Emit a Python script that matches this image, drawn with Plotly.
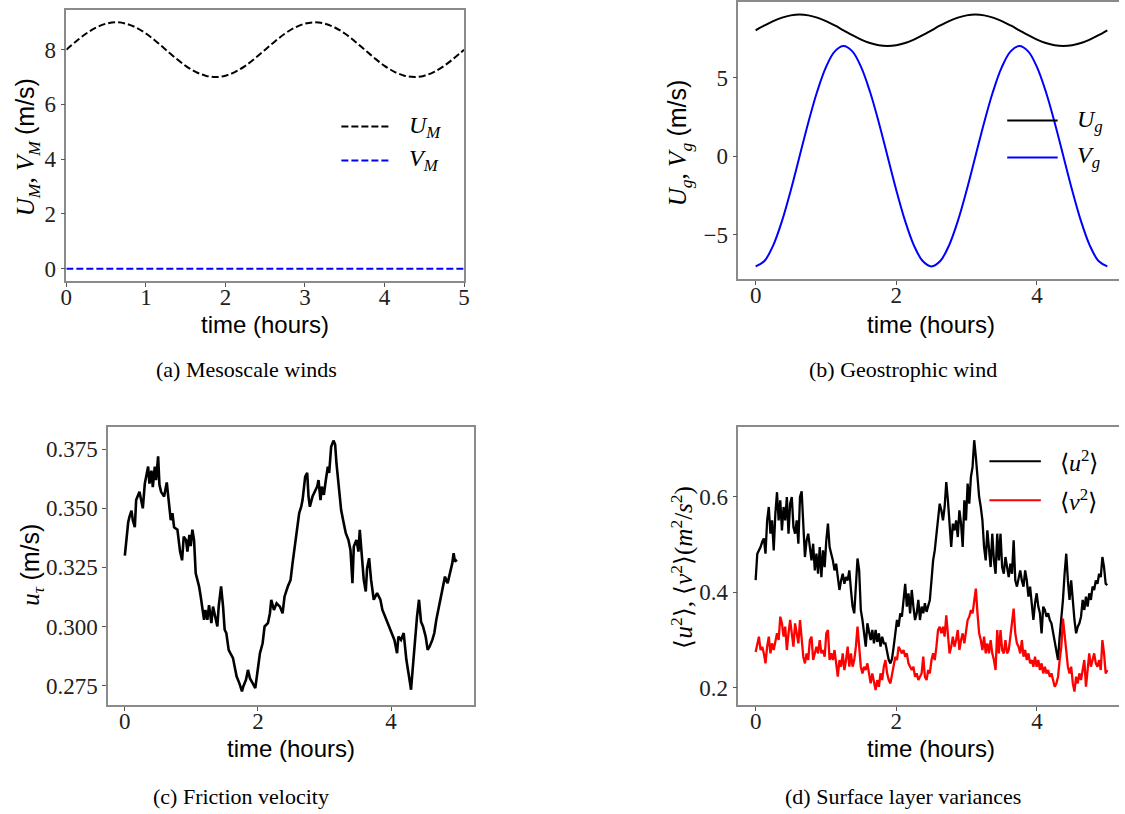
import numpy as np
import plotly.graph_objects as go

# ---------------- data ----------------
# (a)/(b) sample times (hours), step 0.125 h
t_ab = np.linspace(0, 5, 41)
u_meso = [8.00, 8.31, 8.59, 8.81, 8.95, 9.00, 8.95, 8.81, 8.59, 8.31, 8.00, 7.69, 7.41, 7.19,
          7.05, 7.00, 7.05, 7.19, 7.41, 7.69, 8.00, 8.31, 8.59, 8.81, 8.95, 9.00, 8.95, 8.81,
          8.59, 8.31, 8.00, 7.69, 7.41, 7.19, 7.05, 7.00, 7.05, 7.19, 7.41, 7.69, 8.00]
v_meso = [0.0, 0.0, 0.0, 0.0, 0.0, 0.0, 0.0, 0.0, 0.0, 0.0, 0.0, 0.0, 0.0, 0.0, 0.0, 0.0, 0.0,
          0.0, 0.0, 0.0, 0.0, 0.0, 0.0, 0.0, 0.0, 0.0, 0.0, 0.0, 0.0, 0.0, 0.0, 0.0, 0.0, 0.0,
          0.0, 0.0, 0.0, 0.0, 0.0, 0.0, 0.0]
u_geo = [8.00, 8.31, 8.59, 8.81, 8.95, 9.00, 8.95, 8.81, 8.59, 8.31, 8.00, 7.69, 7.41, 7.19,
         7.05, 7.00, 7.05, 7.19, 7.41, 7.69, 8.00, 8.31, 8.59, 8.81, 8.95, 9.00, 8.95, 8.81,
         8.59, 8.31, 8.00, 7.69, 7.41, 7.19, 7.05, 7.00, 7.05, 7.19, 7.41, 7.69, 8.00]
v_geo = [-7.00, -6.66, -5.66, -4.11, -2.16, 0.00, 2.16, 4.11, 5.66, 6.66, 7.00, 6.66, 5.66, 4.11,
         2.16, 0.00, -2.16, -4.11, -5.66, -6.66, -7.00, -6.66, -5.66, -4.11, -2.16, 0.00, 2.16,
         4.11, 5.66, 6.66, 7.00, 6.66, 5.66, 4.11, 2.16, 0.00, -2.16, -4.11, -5.66, -6.66, -7.00]

# (c) friction velocity
t_c = [0.00, 0.025, 0.05, 0.07, 0.10, 0.12, 0.15, 0.17, 0.22, 0.27,
       0.30, 0.35, 0.37, 0.40, 0.42, 0.45, 0.47, 0.50, 0.52, 0.545,
       0.59, 0.63, 0.655, 0.69, 0.715, 0.74, 0.79, 0.83, 0.86, 0.885,
       0.92, 0.94, 0.97, 0.99, 1.015, 1.04, 1.065, 1.09, 1.115, 1.14,
       1.16, 1.19, 1.21, 1.24, 1.265, 1.30, 1.325, 1.36, 1.39, 1.41,
       1.446, 1.476, 1.50, 1.525, 1.56, 1.585, 1.625, 1.66, 1.68, 1.72,
       1.76, 1.78, 1.82, 1.85, 1.88, 1.92, 1.96, 1.99, 2.03, 2.07,
       2.10, 2.15, 2.18, 2.20, 2.24, 2.28, 2.33, 2.37, 2.40, 2.45,
       2.49, 2.52, 2.55, 2.58, 2.62, 2.65, 2.67, 2.71, 2.74, 2.76,
       2.78, 2.82, 2.86, 2.89, 2.91, 2.94, 2.96, 2.99, 3.02, 3.05,
       3.07, 3.10, 3.135, 3.16, 3.18, 3.22, 3.25, 3.28, 3.32, 3.36,
       3.39, 3.42, 3.44, 3.48, 3.51, 3.53, 3.56, 3.59, 3.62, 3.64,
       3.67, 3.70, 3.74, 3.79, 3.84, 3.87, 3.91, 3.95, 3.99, 4.02,
       4.05, 4.09, 4.11, 4.15, 4.19, 4.21, 4.23, 4.27, 4.30, 4.32,
       4.36, 4.39, 4.42, 4.45, 4.48, 4.52, 4.55, 4.58, 4.62, 4.65,
       4.68, 4.72, 4.75, 4.78, 4.81, 4.85, 4.89, 4.92, 4.94, 4.96,
       4.99]
u_tau = [0.330, 0.338, 0.344, 0.3465, 0.349, 0.345, 0.342, 0.3535, 0.357, 0.350,
         0.3605, 0.3677, 0.3605, 0.366, 0.359, 0.3677, 0.362, 0.372, 0.360, 0.357,
         0.355, 0.361, 0.3535, 0.345, 0.348, 0.342, 0.341, 0.3317, 0.328, 0.338,
         0.3366, 0.3317, 0.3388, 0.334, 0.341, 0.3366, 0.3225, 0.3197, 0.317, 0.3127,
         0.309, 0.3028, 0.307, 0.3028, 0.309, 0.3014, 0.3084, 0.3042, 0.300, 0.3084,
         0.317, 0.3084, 0.2986, 0.2972, 0.2901, 0.2887, 0.2866, 0.2816, 0.2788, 0.276,
         0.2725, 0.2746, 0.2774, 0.2816, 0.278, 0.276, 0.2739, 0.2802, 0.2887, 0.2929,
         0.300, 0.3014, 0.3056, 0.3113, 0.307, 0.3098, 0.3084, 0.3056, 0.3127, 0.317,
         0.3197, 0.3268, 0.3338, 0.3409, 0.348, 0.3507, 0.3535, 0.3634, 0.365, 0.355,
         0.3507, 0.355, 0.3578, 0.3592, 0.362, 0.3535, 0.3592, 0.3557, 0.362, 0.3677,
         0.365, 0.3761, 0.3787, 0.377, 0.369, 0.3578, 0.3493, 0.345, 0.3395, 0.3366,
         0.3324, 0.3183, 0.3338, 0.3366, 0.3317, 0.3409, 0.331, 0.3197, 0.3148, 0.3247,
         0.3289, 0.3197, 0.3113, 0.3141, 0.3113, 0.307, 0.3042, 0.3014, 0.2986, 0.2972,
         0.2943, 0.2887, 0.2957, 0.2943, 0.2972, 0.2915, 0.2859, 0.2788, 0.2732, 0.2802,
         0.2957, 0.3042, 0.3113, 0.302, 0.300, 0.2957, 0.2901, 0.2915, 0.2943, 0.2972,
         0.3028, 0.3084, 0.3113, 0.3155, 0.3211, 0.3183, 0.3225, 0.3268, 0.331, 0.3275,
         0.3282]

# (d) surface layer variances (uniform sample times)
u2 = [0.4255, 0.481, 0.488, 0.495, 0.506, 0.513, 0.481,
      0.551, 0.579, 0.523, 0.551, 0.488, 0.565, 0.610, 0.551, 0.593, 0.530,
      0.579, 0.551, 0.600, 0.523, 0.586, 0.600, 0.537, 0.523, 0.551, 0.502,
      0.600, 0.612, 0.537, 0.474, 0.509, 0.523, 0.495, 0.467, 0.502, 0.446,
      0.481, 0.439, 0.495, 0.432, 0.488, 0.453, 0.509, 0.544, 0.495, 0.481,
      0.467, 0.446, 0.460, 0.432, 0.405, 0.425, 0.439, 0.418, 0.432, 0.425,
      0.446, 0.405, 0.370, 0.356, 0.418,
      0.471, 0.446, 0.363, 0.342, 0.314, 0.286, 0.335, 0.314, 0.300, 0.321,
      0.293, 0.321, 0.296, 0.314, 0.286, 0.307, 0.293, 0.293, 0.272, 0.258,
      0.251, 0.261, 0.286, 0.314, 0.342, 0.328, 0.356, 0.349, 0.391, 0.418,
      0.370, 0.398, 0.356, 0.405, 0.370, 0.342, 0.356, 0.384, 0.342, 0.370,
      0.356, 0.377, 0.359, 0.370, 0.384, 0.425, 0.467, 0.488, 0.523, 0.558,
      0.586, 0.572, 0.551, 0.579, 0.631, 0.593, 0.530, 0.495, 0.544, 0.530,
      0.551, 0.516, 0.572, 0.544, 0.495, 0.593, 0.551, 0.628, 0.586, 0.642,
      0.663, 0.719, 0.684, 0.635, 0.600, 0.579, 0.551, 0.495, 0.467, 0.530,
      0.481, 0.453, 0.523, 0.467, 0.439, 0.523, 0.467, 0.523, 0.453, 0.439,
      0.474, 0.453, 0.432, 0.460, 0.439, 0.509, 0.425, 0.412, 0.432, 0.446,
      0.425, 0.412, 0.446, 0.425, 0.391, 0.412, 0.377, 0.342, 0.377, 0.398,
      0.370, 0.356, 0.314, 0.370, 0.363, 0.349, 0.356, 0.342, 0.335, 0.314,
      0.300, 0.272, 0.258, 0.307, 0.342, 0.384, 0.439, 0.481, 0.425, 0.384,
      0.425, 0.377, 0.342, 0.314, 0.328, 0.335, 0.349, 0.384, 0.363, 0.391,
      0.370, 0.398, 0.384, 0.412, 0.405, 0.425, 0.418, 0.439, 0.432, 0.474,
      0.453, 0.418, 0.415]
v2 = [0.275, 0.293, 0.307, 0.279, 0.286, 0.272, 0.251,
      0.286, 0.307, 0.272, 0.293, 0.279, 0.300, 0.314, 0.300, 0.349, 0.335,
      0.307, 0.328, 0.279, 0.314, 0.342, 0.314, 0.286, 0.335, 0.314, 0.293,
      0.342, 0.307, 0.265, 0.251, 0.272, 0.258, 0.300, 0.307, 0.258, 0.272,
      0.286, 0.272, 0.300, 0.272, 0.279, 0.265, 0.314, 0.321, 0.258, 0.272,
      0.258, 0.279, 0.251, 0.223, 0.258, 0.244, 0.272, 0.237, 0.258, 0.286,
      0.244, 0.272, 0.244, 0.258, 0.286,
      0.328, 0.286, 0.244, 0.230, 0.244, 0.237, 0.251, 0.230, 0.209, 0.230,
      0.209, 0.195, 0.216, 0.202, 0.230, 0.216, 0.244, 0.258, 0.230, 0.216,
      0.209, 0.230, 0.244, 0.265, 0.258, 0.286, 0.279, 0.272, 0.279, 0.265,
      0.272, 0.251, 0.244, 0.237, 0.244, 0.223, 0.230, 0.216, 0.223, 0.230,
      0.265, 0.223, 0.216, 0.237, 0.230, 0.258, 0.272, 0.258, 0.286, 0.321,
      0.328, 0.314, 0.328, 0.307, 0.352, 0.314, 0.272, 0.286, 0.307, 0.286,
      0.300, 0.321, 0.279, 0.300, 0.314, 0.293, 0.321, 0.342, 0.349, 0.363,
      0.356, 0.384, 0.408, 0.356, 0.314, 0.300, 0.279, 0.307, 0.272, 0.293,
      0.272, 0.300, 0.272, 0.258, 0.237, 0.321, 0.272, 0.321, 0.279, 0.272,
      0.300, 0.272, 0.279, 0.307, 0.342, 0.366, 0.314, 0.293, 0.286, 0.272,
      0.300, 0.265, 0.279, 0.258, 0.272, 0.251, 0.258, 0.244, 0.265, 0.244,
      0.258, 0.237, 0.251, 0.230, 0.244, 0.230, 0.237, 0.223, 0.230, 0.216,
      0.202, 0.209, 0.223, 0.258, 0.286, 0.345, 0.307, 0.279, 0.244, 0.230,
      0.244, 0.209, 0.192, 0.223, 0.209, 0.230, 0.216, 0.237, 0.258, 0.202,
      0.244, 0.272, 0.244, 0.258, 0.272, 0.251, 0.244, 0.258, 0.237, 0.300,
      0.272, 0.230, 0.237]
t_d = np.linspace(0, 5, len(u2))

captions = ["(a) Mesoscale winds", "(b) Geostrophic wind",
            "(c) Friction velocity", "(d) Surface layer variances"]

# ---------------- layout helpers ----------------
W, H = 1125, 814
def px(x): return x / W
def py(y): return 1 - y / H

SERIF = "Liberation Serif"
SANS = "Liberation Sans"
TICKFONT = dict(family=SERIF, size=23, color="#222222")
FRAME = "#8a8a8a"

fig = go.Figure()

fig.add_trace(go.Scatter(x=t_ab, y=u_meso, mode="lines", line=dict(color="black", width=2, dash="7px,3px", shape="spline"), xaxis="x", yaxis="y", showlegend=False))
fig.add_trace(go.Scatter(x=t_ab, y=v_meso, mode="lines", line=dict(color="#0000ff", width=2, dash="7px,3px"), xaxis="x", yaxis="y", showlegend=False))
fig.add_trace(go.Scatter(x=t_ab, y=u_geo, mode="lines", line=dict(color="black", width=2, shape="spline"), xaxis="x2", yaxis="y2", showlegend=False))
fig.add_trace(go.Scatter(x=t_ab, y=v_geo, mode="lines", line=dict(color="#0000ff", width=2, shape="spline"), xaxis="x2", yaxis="y2", showlegend=False))
fig.add_trace(go.Scatter(x=t_c, y=u_tau, mode="lines", line=dict(color="black", width=2.6), xaxis="x3", yaxis="y3", showlegend=False))
fig.add_trace(go.Scatter(x=t_d, y=u2, mode="lines", line=dict(color="black", width=2.3), xaxis="x4", yaxis="y4", showlegend=False))
fig.add_trace(go.Scatter(x=t_d, y=v2, mode="lines", line=dict(color="#ff0000", width=2.3), xaxis="x4", yaxis="y4", showlegend=False))

def xax(domain, rng, tickvals, anchor):
    return dict(domain=domain, range=rng, tickvals=tickvals, anchor=anchor,
                showline=True, linecolor=FRAME, linewidth=1.5, mirror=True,
                ticks="outside", ticklen=4, tickcolor="#555555", tickwidth=1,
                ticklabelstandoff=-9,
                showgrid=False, zeroline=False, tickfont=TICKFONT, fixedrange=True)

def yax(domain, rng, tickvals, ticktext, anchor, mirror=True):
    return dict(domain=domain, range=rng, tickvals=tickvals, ticktext=ticktext, anchor=anchor,
                showline=True, linecolor=FRAME, linewidth=1.5, mirror=mirror,
                ticks="outside", ticklen=4, tickcolor="#555555", tickwidth=1,
                showgrid=False, zeroline=False, tickfont=TICKFONT, fixedrange=True)

fig.update_layout(
    width=W, height=H, margin=dict(l=0, r=0, t=0, b=0),
    paper_bgcolor="white", plot_bgcolor="white", showlegend=False,
    xaxis=xax([px(61), px(463)], [0, 5], [0, 1, 2, 3, 4, 5], "y"),
    yaxis=yax([py(280), py(8)], [-0.45, 9.45], [0, 2, 4, 6, 8], ["0", "2", "4", "6", "8"], "x"),
    xaxis2=xax([px(740.3), 1.0], [-0.245, 5.166], [0, 2, 4], "y2"),
    yaxis2=yax([py(278), 1.0], [-7.8, 9.8], [-5, 0, 5], ["\u22125", "0", "5"], "x2", mirror=False),
    xaxis3=xax([px(103.3), px(473.3)], [-0.25, 5.25], [0, 2, 4], "y3"),
    yaxis3=yax([py(705.7), py(426.7)], [0.2667, 0.3844], [0.275, 0.300, 0.325, 0.350, 0.375],
               ["0.275", "0.300", "0.325", "0.350", "0.375"], "x3"),
    xaxis4=xax([px(740.3), 1.0], [-0.245, 5.166], [0, 2, 4], "y4"),
    yaxis4=yax([py(705.7), py(426.7)], [0.1635, 0.7465], [0.2, 0.4, 0.6], ["0.2", "0.4", "0.6"], "x4", mirror=False),
)

ann = []
def text(x, y, s, size, family=SERIF, angle=0, xanchor="center"):
    ann.append(dict(x=px(x), y=py(y), xref="paper", yref="paper", text=s, showarrow=False,
                    font=dict(family=family, size=size, color="black"), textangle=angle,
                    xanchor=xanchor, yanchor="middle"))

sans = lambda s: '<span style="font-family:Liberation Sans">' + s + '</span>'

# x-axis titles
for (x, y) in [(262, 324), (935, 324), (288, 749), (935, 749)]:
    text(x, y, "time (hours)", 24, family=SANS)

# y-axis titles
text(22, 146, "<i>U</i><sub><i>M</i></sub>, <i>V</i><sub><i>M</i></sub> " + sans("(m/s)"), 25, angle=-90)
text(681, 141, "<i>U</i><sub><i>g</i></sub>, <i>V</i><sub><i>g</i></sub> " + sans("(m/s)"), 25, angle=-90)
text(26, 565, "<i>u</i><sub><i>τ</i></sub> " + sans("(m/s)"), 25, angle=-90)
text(684, 567, "⟨<i>u</i><sup>2</sup>⟩, ⟨<i>v</i><sup>2</sup>⟩(<i>m</i><sup>2</sup>/<i>s</i><sup>2</sup>)", 25, angle=-90)

# captions
for (x, y), s in zip([(243, 369), (907, 369), (238, 797), (907, 797)], captions):
    text(x, y, s, 22)

# manual legends
shapes = []
def leg(x0, x1, y, color, dash, label, tx):
    shapes.append(dict(type="line", xref="paper", yref="paper", x0=px(x0), x1=px(x1), y0=py(y), y1=py(y),
                       line=dict(color=color, width=2, dash=dash)))
    text(tx, y, label, 24, xanchor="left")

leg(339, 389, 125, "black", "7px,3px", "<i>U</i><sub><i>M</i></sub>", 405)
leg(339, 389, 159, "#0000ff", "7px,3px", "<i>V</i><sub><i>M</i></sub>", 405)
leg(1012, 1063, 119, "black", "solid", "<i>U</i><sub><i>g</i></sub>", 1081)
leg(1012, 1063, 156, "#0000ff", "solid", "<i>V</i><sub><i>g</i></sub>", 1081)
leg(994, 1046, 461, "black", "solid", "⟨<i>u</i><sup>2</sup>⟩", 1063)
leg(994, 1046, 500, "#ff0000", "solid", "⟨<i>v</i><sup>2</sup>⟩", 1063)

fig.update_layout(annotations=ann, shapes=shapes)
fig.write_html("out.html")
